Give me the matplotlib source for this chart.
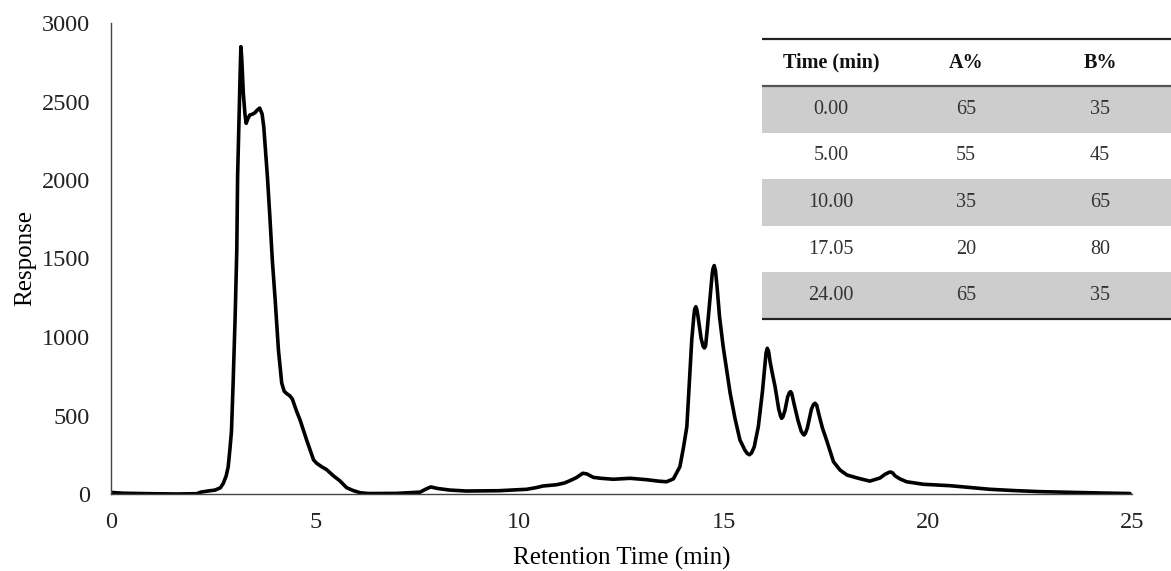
import matplotlib
matplotlib.use("Agg")
import matplotlib.pyplot as plt
import numpy as np

plt.rcParams['font.family'] = ['Liberation Serif', 'DejaVu Serif']

# chromatogram trace (time in min, response)
rt = [0.00, 0.30, 0.95, 1.60, 2.10, 2.20, 2.40, 2.55, 2.68, 2.75, 2.82, 2.87, 2.91, 2.95,
      2.99, 3.04, 3.08, 3.10, 3.14, 3.16, 3.18, 3.20, 3.24, 3.28, 3.31, 3.35, 3.40, 3.47,
      3.53, 3.58, 3.64, 3.70, 3.74, 3.77, 3.83, 3.89, 3.95, 4.02, 4.10, 4.18, 4.24, 4.30,
      4.38, 4.44, 4.54, 4.63, 4.79, 4.96, 5.04, 5.15, 5.28, 5.45, 5.60, 5.77, 5.93, 6.10,
      6.30, 7.00, 7.40, 7.57, 7.70, 7.83, 8.00, 8.30, 8.70, 9.50, 10.18, 10.40, 10.58,
      10.91, 11.10, 11.24, 11.40, 11.55, 11.65, 11.81, 12.00, 12.30, 12.71, 13.12, 13.40,
      13.60, 13.77, 13.93, 14.02, 14.10, 14.16, 14.22, 14.27, 14.29, 14.32, 14.35, 14.39,
      14.45, 14.50, 14.53, 14.56, 14.60, 14.67, 14.72, 14.74, 14.77, 14.80, 14.84, 14.90,
      14.99, 15.16, 15.28, 15.40, 15.52, 15.58, 15.63, 15.68, 15.75, 15.85, 15.95, 16.02,
      16.04, 16.07, 16.10, 16.14, 16.20, 16.26, 16.35, 16.40, 16.42, 16.45, 16.50, 16.57,
      16.61, 16.64, 16.67, 16.72, 16.82, 16.90, 16.95, 16.97, 17.00, 17.05, 17.15, 17.20,
      17.24, 17.28, 17.34, 17.42, 17.52, 17.69, 17.85, 18.02, 18.30, 18.58, 18.83, 18.95,
      19.05, 19.09, 19.14, 19.20, 19.32, 19.48, 19.89, 20.54, 21.00, 21.52, 22.10, 22.75,
      23.60, 24.30, 24.95]
resp = [10, 5, 2, 0, 2, 12, 20, 25, 40, 68, 115, 174, 280, 400,
        705, 1130, 1554, 2021, 2450, 2658, 2849, 2780, 2552, 2420, 2361, 2390, 2414, 2420,
        2430, 2445, 2458, 2420, 2340, 2234, 2021, 1766, 1490, 1236, 917, 707, 655, 640,
        625, 605, 530, 471, 344, 217, 195, 175, 155, 115, 85, 40, 22, 8,
        3, 4, 10, 12, 30, 45, 35, 25, 19, 21, 30, 40, 51,
        59, 70, 85, 105, 132, 128, 106, 100, 94, 100, 91, 82,
        78, 96, 174, 300, 429, 700, 981, 1130, 1175, 1193, 1170, 1100,
        990, 940, 930, 945, 1050, 1250, 1400, 1435, 1455, 1425, 1320, 1130,
        938, 643, 480, 344, 280, 258, 250, 260, 300, 429, 650, 850,
        900, 928, 910, 840, 760, 684, 540, 492, 482, 490, 530, 620,
        645, 652, 640, 580, 470, 400, 380, 376, 385, 420, 540, 570,
        578, 565, 500, 420, 344, 206, 153, 121, 100, 82, 102, 125,
        138, 140, 134, 115, 96, 78, 62, 53, 42, 30, 22, 15,
        10, 6, 3]

# gradient table
tab_cols = ['Time (min)', 'A%', 'B%']
tab_time = ['0.00', '5.00', '10.00', '17.05', '24.00']
tab_a = ['65', '55', '35', '20', '65']
tab_b = ['35', '45', '65', '80', '35']

W, H = 1171, 571
fig = plt.figure(figsize=(W / 100, H / 100), dpi=100)
ax = fig.add_axes([111 / W, 1 - 494 / H, (1132 - 111) / W, (494 - 23) / H])
ax.plot(rt, resp, color='black', lw=2.6, solid_joinstyle='round', solid_capstyle='round')
ax.set_xlim(0, 25)
ax.set_ylim(0, 3000)
ax.set_xticks(np.arange(0, 26, 5))
ax.set_yticks(np.arange(0, 3001, 500))
ax.tick_params(length=0, labelsize=17.5, colors='#222222')
ax.tick_params(axis='y', pad=15)
ax.tick_params(axis='x', pad=13)
for s in ['top', 'right']:
    ax.spines[s].set_visible(False)
for s in ['left', 'bottom']:
    ax.spines[s].set_color('#444444')
    ax.spines[s].set_linewidth(1.0)
ax.set_xlabel('Retention Time (min)', fontsize=18, labelpad=10)
ax.set_ylabel('Response', fontsize=18, labelpad=4)

# table drawn in pixel coordinates on an overlay axes
tx0, tx1, ty0, ty1 = 762, 1171, 36, 322
tab = fig.add_axes([tx0 / W, 1 - ty1 / H, (tx1 - tx0) / W, (ty1 - ty0) / H])
tab.set_xlim(tx0, tx1)
tab.set_ylim(ty1, ty0)
tab.axis('off')
col_x = [831, 966, 1100]
head_top, head_bot, bot = 39, 86, 319
row_h = (bot - head_bot) / len(tab_time)
for i, row in enumerate(zip(tab_time, tab_a, tab_b)):
    y0 = head_bot + i * row_h
    if i % 2 == 0:
        tab.axhspan(y0, y0 + row_h, color='#cdcdcd', lw=0)
    for cx, val in zip(col_x, row):
        tab.text(cx, y0 + row_h / 2, val, ha='center', va='center', fontsize=14.5, color='#333333')
for cx, name in zip(col_x, tab_cols):
    tab.text(cx, (head_top + head_bot) / 2, name, ha='center', va='center',
             fontsize=14.5, fontweight='bold', color='#111111')
tab.axhline(head_top, color='#222222', lw=1.6)
tab.axhline(head_bot, color='#555555', lw=1.6)
tab.axhline(bot, color='#222222', lw=1.6)

fig.savefig('out.png', dpi=100)
